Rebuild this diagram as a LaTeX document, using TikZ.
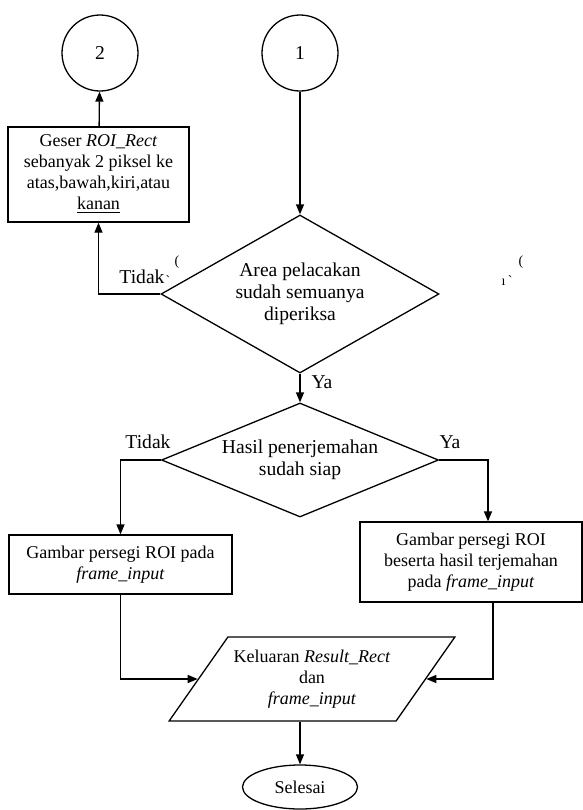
\documentclass[tikz,border=0pt]{standalone}
\usepackage{fontspec}
\setmainfont{Liberation Serif}
\usetikzlibrary{shapes.geometric,arrows.meta}

\begin{document}
\begin{tikzpicture}[
	x=0.5pt, y=-0.5pt,
	font=\fontsize{9.8}{11}\selectfont,
	proses/.style={
		rectangle,
		draw=black,
		line width=0.65pt,
		align=center,
		inner sep=2pt,
		font=\fontsize{9}{10.5}\selectfont
	},
	konektor/.style={circle, draw=black, line width=0.65pt, minimum size=38pt, inner sep=0pt},
	keputusan/.style={diamond, draw=black, line width=0.65pt, align=center, inner sep=0pt},
	keluaran/.style={trapezium, trapezium left angle=55, trapezium right angle=125, draw=black, line width=0.65pt, align=center, inner xsep=-6pt, inner ysep=2pt, minimum height=42pt, font=\fontsize{9}{10.5}\selectfont},
	terminal/.style={ellipse, draw=black, line width=0.65pt, minimum width=57.5pt, minimum height=22pt, inner sep=0pt, font=\fontsize{9}{10.5}\selectfont},
	arrow/.style={-{Triangle[length=5pt,width=4pt]}, line width=0.65pt},
	ket/.style={inner sep=0pt},
	coret/.style={inner sep=0pt, font=\fontsize{7}{8}\selectfont}
]
\useasboundingbox[fill=white] (0,0) rectangle (583,810);

% Konektor halaman
\node[konektor] (c2) at (100,53) {2};
\node[konektor] (c1) at (300,53) {1};

% Geser ROI
\node[proses, minimum width=90.5pt, minimum height=47.5pt] (geser) at (98.5,174.5) {
	Geser \textit{ROI\_Rect}\\
	sebanyak 2 piksel ke\\
	atas,bawah,kiri,atau\\
	\underline{kanan}
};

% Keputusan 1
\node[keputusan, minimum width=139pt, minimum height=79pt, aspect=1.76] (d1) at (300,294) {
	Area pelacakan\\
	sudah semuanya\\
	diperiksa
};

% Keputusan 2
\node[keputusan, minimum width=138.5pt, minimum height=57pt, aspect=2.43] (d2) at (300,460) {
	Hasil penerjemahan\\
	sudah siap
};

% Gambar persegi ROI
\node[proses, minimum width=111.5pt, minimum height=29.5pt] (kiri) at (120.5,564.5) {
	Gambar persegi ROI pada\\
	\textit{frame\_input}
};
\node[proses, minimum width=111pt, minimum height=40pt] (kanan) at (471,562) {
	Gambar persegi ROI\\
	beserta hasil terjemahan\\
	pada \textit{frame\_input}
};

% Keluaran dan selesai
\node[keluaran] (out) at (312,679) {
	Keluaran \textit{Result\_Rect}\\
	dan\\
	\textit{frame\_input}
};
\node[terminal] (sel) at (300,787) {Selesai};

% Label cabang
\node[ket] (t1) at (142,277) {Tidak};
\node[ket] (y1) at (322,382) {Ya};
\node[ket] (t2) at (148,442) {Tidak};
\node[ket] (y2) at (450,442) {Ya};
\node[coret] (k1) at (177,262) {(};
\node[coret] (k2) at (168,281) {\textasciigrave};
\node[coret] (k3) at (521,262) {(};
\node[coret] (k4) at (507,281) {ı\,\textasciigrave};

% Panah
\draw[arrow] (geser) -- (c2);
\draw[arrow] (c1) -- (d1);
\draw[arrow] (d1.west) -| (geser.south);
\draw[arrow] (d1) -- (d2);
\draw[arrow] (d2.west) -| (kiri.north);
\draw[arrow] (d2.east) -| ([xshift=8.5pt]kanan.north);
\draw[arrow] (kiri.south) |- (out.west);
\draw[arrow] ([xshift=11pt]kanan.south) |- (out.east);
\draw[arrow] (sel.north |- out.south) -- (sel.north);

\end{tikzpicture}
\end{document}
